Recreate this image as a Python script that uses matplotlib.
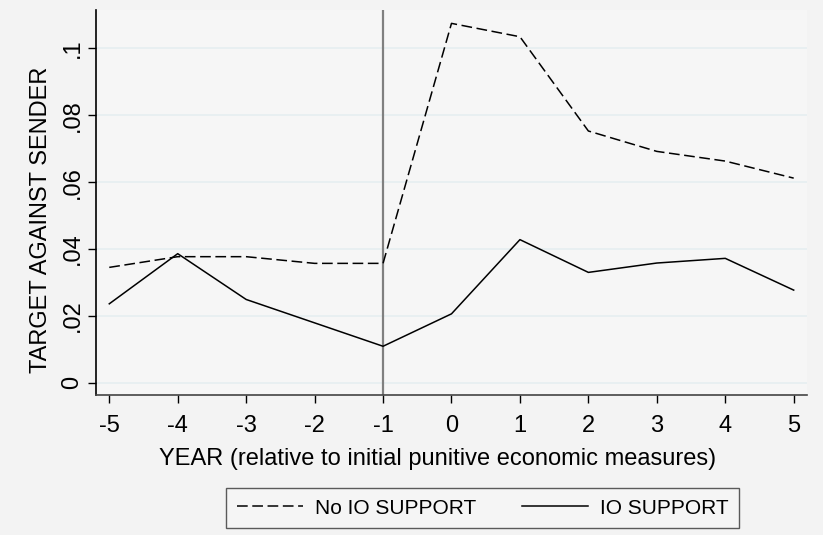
import matplotlib; matplotlib.use('Agg')
import matplotlib.pyplot as plt

plt.rcParams['font.family'] = ['Liberation Sans', 'DejaVu Sans']

years = [-5, -4, -3, -2, -1, 0, 1, 2, 3, 4, 5]
no_io = [0.0345, 0.0377, 0.0377, 0.0357, 0.0357, 0.1075, 0.1035, 0.0753, 0.0692, 0.0663, 0.0612]
io = [0.0236, 0.0386, 0.0249, 0.0179, 0.0109, 0.0206, 0.0428, 0.0330, 0.0358, 0.0372, 0.0277]
yticks = [0, 0.02, 0.04, 0.06, 0.08, 0.1]
ytick_labels = ['0', '.02', '.04', '.06', '.08', '.1']

BG = '#f3f3f3'
PLOT_BG = '#f6f6f6'
FS = 17

fig = plt.figure(figsize=(8.23, 5.35), dpi=100)
fig.patch.set_facecolor(BG)
ax = fig.add_axes([96 / 823, 1 - 395.3 / 535, (806.7 - 96) / 823, (395.3 - 10) / 535])
ax.set_facecolor(PLOT_BG)

for y in yticks:
    ax.axhline(y, color='#e6eef0', lw=1.2, zorder=0)
ax.axvline(-1, color='#808080', lw=1.6, zorder=1)

ax.plot(years, no_io, color='black', lw=1.1, dashes=(7, 3), label='No IO SUPPORT', zorder=2)
ax.plot(years, io, color='black', lw=1.1, label='IO SUPPORT', zorder=2)

ax.set_xlim(-5.194, 5.19)
ax.set_ylim(-0.00377, 0.1115)
ax.set_xticks(years)
ax.set_xticklabels([str(y) for y in years], fontsize=FS)
ax.set_yticks(yticks)
ax.set_yticklabels(ytick_labels, fontsize=FS, rotation=90, va='center')
ax.tick_params(axis='both', direction='out', length=6, width=1.0, color='black')
ax.tick_params(axis='x', pad=8)
ax.tick_params(axis='y', pad=3)

for s in ['top', 'right']:
    ax.spines[s].set_visible(False)
ax.spines['left'].set_linewidth(1.2)
ax.spines['bottom'].set_linewidth(1.2)
ax.spines['bottom'].set_color('#444444')

ax.set_xlabel('YEAR (relative to initial punitive economic measures)', fontsize=FS, labelpad=8)
ax.set_ylabel('TARGET AGAINST SENDER', fontsize=FS, labelpad=7)
ax.xaxis.label.set_x((438 - 96) / 710.7)
ax.yaxis.label.set_y((395.3 - 219.5) / 385.3)

leg = fig.legend(loc='center', bbox_to_anchor=(482.5 / 823, 1 - 508 / 535), ncol=2,
                 fontsize=15, frameon=True, fancybox=False, handlelength=3.2,
                 columnspacing=2.2, handletextpad=0.55, borderpad=0.5, borderaxespad=0)
leg.get_frame().set_edgecolor('#333333')
leg.get_frame().set_facecolor(PLOT_BG)
leg.get_frame().set_linewidth(1.0)

fig.savefig('out.png', dpi=100, facecolor=BG)
